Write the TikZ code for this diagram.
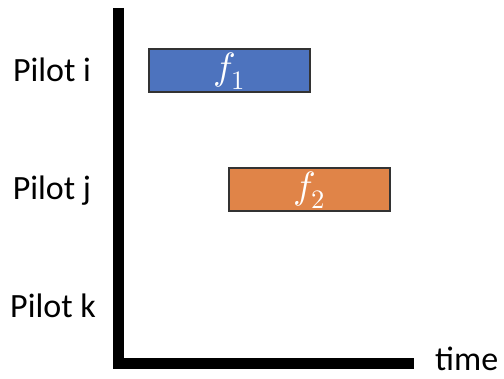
\documentclass[tikz,border=0pt]{standalone}
\usepackage{fontspec}
\usepackage{unicode-math}
\setmainfont{Carlito}
\setmathfont{Latin Modern Math}
\definecolor{JobBlue}{RGB}{77, 115, 190}
\definecolor{JobOrange}{RGB}{224, 132, 72}
\usetikzlibrary{positioning}

\begin{document}
\begin{tikzpicture}[x=1pt, y=-1pt,
    every node/.style={font=\fontsize{34}{40}\selectfont, inner sep=0pt},
    pilot/.style={anchor=base},
    job/.style={draw=black!80, line width=1.2pt, minimum width=161pt,
                minimum height=43pt, text=white, text height=19pt, text depth=0pt,
                font=\fontsize{38}{44}\selectfont},
    axis/.style={line width=11pt}
]
\useasboundingbox (0,0) rectangle (504,379);
% axes
\coordinate (ytop) at (118.5,8);
\coordinate (origin) at (118.5,364);
\coordinate (xend) at (414,364);
\draw[axis] (ytop) -- (origin) -- (xend);
\node[anchor=base west] (time) at (435,371) {time};
% pilots
\node[pilot] (pi) at (52,82) {Pilot i};
\node[pilot] (pj) at (52,200) {Pilot j};
\node[pilot] (pk) at (53,318) {Pilot k};
% flights
\node[job, fill=JobBlue] (f1) at (229.5,70.5) {$f_1$};
\node[job, fill=JobOrange] (f2) at (309.5,189.5) {$f_2$};
\end{tikzpicture}
\end{document}
